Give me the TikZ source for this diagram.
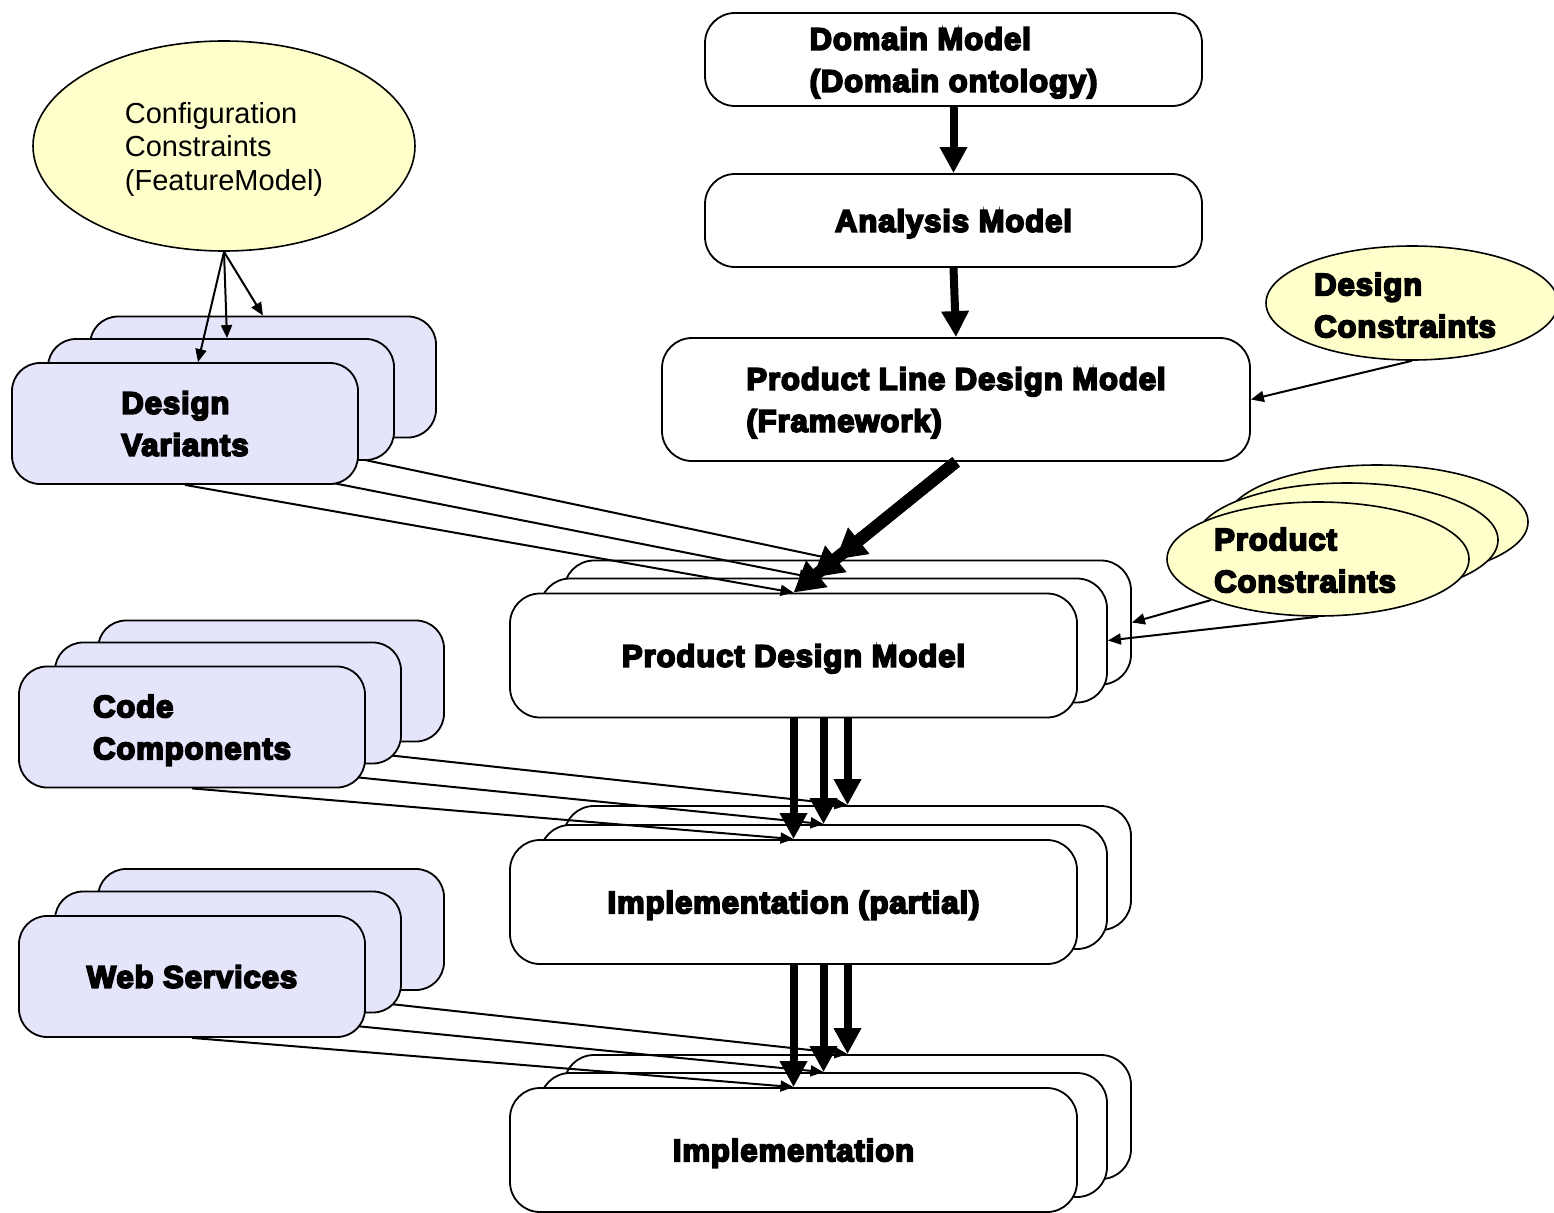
\documentclass[tikz,border=0pt]{standalone}
\usepackage{fontspec}
\setmainfont{Liberation Sans}
\newfontfamily\heavyfont{Liberation Sans}[UprightFont={* Bold}, UprightFeatures={FakeBold=6}, LetterSpace=3]
\usetikzlibrary{arrows.meta,shapes.geometric,calc}
\definecolor{lav}{RGB}{228,228,250}
\definecolor{cream}{RGB}{255,255,204}
\pgfdeclarelayer{back}
\pgfdeclarelayer{front}
\pgfsetlayers{back,main,front}
\tikzset{
  heavy/.style={font=\heavyfont\fontsize{31}{42}\selectfont, align=left, text depth=0pt},
  plain/.style={font=\fontsize{29}{33.5}\selectfont, align=left, text depth=0pt},
  modelbox/.style={draw, line width=1.8pt, rounded corners=30pt, fill=white, inner sep=0pt,
    minimum width=567pt, minimum height=124pt},
  topbox/.style={draw, line width=1.8pt, rounded corners=30pt, fill=white, inner sep=0pt},
  assetbox/.style={draw, line width=1.8pt, rounded corners=28pt, fill=lav, inner sep=0pt,
    minimum width=346pt, minimum height=121pt},
  cons/.style={ellipse, draw, line width=1.6pt, fill=cream, inner sep=0pt},
  thin/.style={line width=2pt, -{Triangle[length=13pt,width=11pt]}},
  flow/.style={line width=8pt, -{Triangle[length=26pt,width=26pt]}},
  derive/.style={line width=12pt, -{Triangle[length=30pt,width=32pt]}},
}
\begin{document}
\begin{tikzpicture}[x=1pt,y=-1pt]
\useasboundingbox (0,0) rectangle (1554,1212);

% ---- model chain (right-hand side) ----
\begin{pgfonlayer}{back}
  \node[topbox, minimum width=497pt, minimum height=93pt, heavy] (dm) at (953.5,59.5)
    {Domain Model\\(Domain ontology)};
  \node[topbox, minimum width=497pt, minimum height=93pt, heavy] (am) at (953.5,220.5)
    {Analysis Model};
  \node[topbox, minimum width=588pt, minimum height=123pt, heavy] (pl) at (956,399.5)
    {Product Line Design Model\\(Framework)};

  \node[modelbox] (pdmA) at (847.5,622.5) {};
  \node[modelbox] (pdmB) at (823.5,640.5) {};
  \node[modelbox, heavy] (pdmC) at (793.5,655.5) {Product Design Model};

  \node[modelbox] (ipA) at (847.5,868) {};
  \node[modelbox] (ipB) at (823.5,887) {};
  \node[modelbox, heavy] (ipC) at (793.5,902) {Implementation (partial)};

  \node[modelbox] (imA) at (847.5,1117) {};
  \node[modelbox] (imB) at (823.5,1135) {};
  \node[modelbox, heavy] (imC) at (793.5,1150) {Implementation};
\end{pgfonlayer}

% ---- reusable assets and constraints ----
\begin{pgfonlayer}{front}
  \node[assetbox] (dvA) at (263,377) {};
  \node[assetbox] (dvB) at (221,399.5) {};
  \node[assetbox, heavy] (dvC) at (185,423.5) {Design\\Variants};

  \node[assetbox] (ccA) at (271,681) {};
  \node[assetbox] (ccB) at (228,703) {};
  \node[assetbox, heavy] (ccC) at (192,727) {Code\\Components};

  \node[assetbox] (wsA) at (271,929.5) {};
  \node[assetbox] (wsB) at (228,952) {};
  \node[assetbox, heavy] (wsC) at (192,976.5) {Web Services};

  \node[cons, minimum width=382pt, minimum height=210pt, plain] (cfg) at (224,146)
    {Configuration\\Constraints\\(FeatureModel)};
  \node[cons, minimum width=292pt, minimum height=114pt] (dc) at (1412,303) {};
  \node[heavy] (dcT) at ([xshift=-7pt,yshift=-2pt]dc.center) {Design\\Constraints};

  \node[cons, minimum width=302pt, minimum height=114pt] (pcA) at (1377,522) {};
  \node[cons, minimum width=302pt, minimum height=114pt] (pcB) at (1347,540) {};
  \node[cons, minimum width=302pt, minimum height=114pt] (pcC) at (1318,559) {};
  \node[heavy] (pcT) at ([xshift=-13pt,yshift=-1pt]pcC.center) {Product\\Constraints};

  % feature model selects the design variants
  \draw[thin] (cfg.south) -- ([xshift=13pt]dvC.north);
  \draw[thin] (cfg.south) -- ([xshift=6pt]dvB.north);
  \draw[thin] (cfg.south) -- (dvA.north);
\end{pgfonlayer}

% ---- refinement along the chain ----
\draw[flow] (dm.south) -- (am.north);
\draw[flow] (am.south) -- (pl.north);

\draw[derive] (pl.south) -- ([xshift=-12pt]pdmA.north);
\draw[derive] (pl.south) -- ([xshift=-11pt]pdmB.north);
\draw[derive] (pl.south) -- (pdmC.north);

\draw[thin] (dc.south) -- (pl.east);
\draw[thin] (pcC.201) -- (pdmA.east);
\draw[thin] (pcC.south) -- (pdmB.east);

\draw[thin] (dvA.south) -- ([xshift=-12pt]pdmA.north);
\draw[thin] (dvB.south) -- ([xshift=-11pt]pdmB.north);
\draw[thin] (dvC.south) -- (pdmC.north);

\draw[flow] (pdmA.south |- pdmC.south) -- (ipA.north);
\draw[flow] (pdmB.south |- pdmC.south) -- (ipB.north);
\draw[flow] (pdmC.south) -- (ipC.north);

\draw[thin] (ccA.south) -- (ipA.north);
\draw[thin] (ccB.south) -- (ipB.north);
\draw[thin] (ccC.south) -- (ipC.north);

\draw[flow] (ipA.south |- ipC.south) -- (imA.north);
\draw[flow] (ipB.south |- ipC.south) -- (imB.north);
\draw[flow] (ipC.south) -- (imC.north);

\draw[thin] (wsA.south) -- (imA.north);
\draw[thin] (wsB.south) -- (imB.north);
\draw[thin] (wsC.south) -- (imC.north);
\end{tikzpicture}
\end{document}
